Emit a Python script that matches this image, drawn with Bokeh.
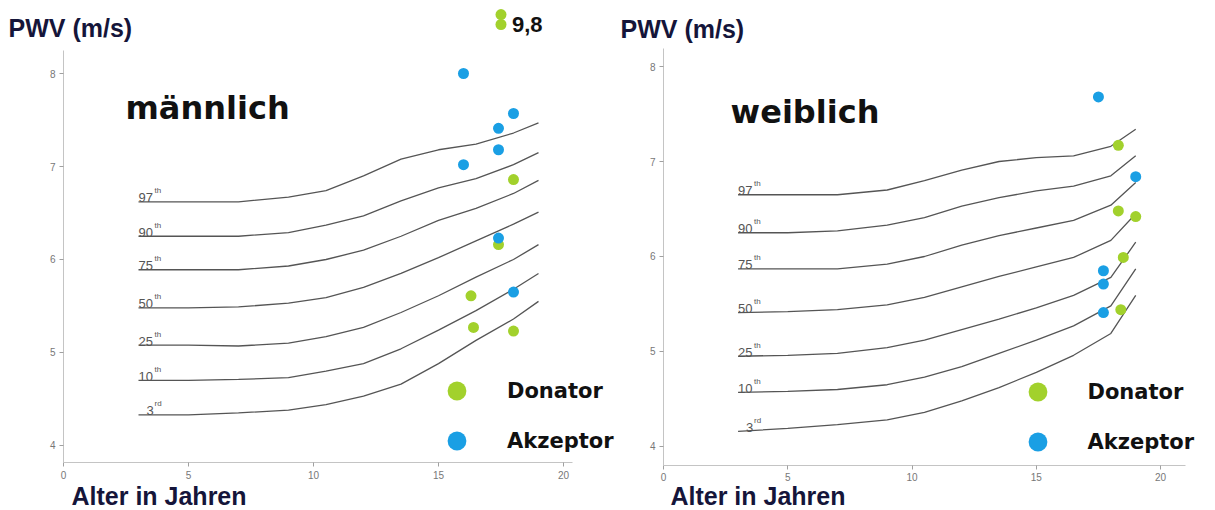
from bokeh.plotting import figure
from bokeh.models import Label, Legend, LegendItem, ColumnDataSource, FixedTicker, Range1d
from bokeh.layouts import row
from bokeh.embed import file_html
from bokeh.resources import INLINE
from bokeh.core.properties import value

# ---------------- data ----------------
ages = [3, 5, 7, 9, 10.5, 12, 13.5, 15, 16.5, 18, 19]
percentile_names = ["97", "90", "75", "50", "25", "10", "3"]
percentile_suffix = ["th", "th", "th", "th", "th", "th", "rd"]

# boys (männlich)
p97_m = [6.62, 6.62, 6.62, 6.67, 6.74, 6.90, 7.08, 7.18, 7.24, 7.36, 7.47]
p90_m = [6.25, 6.25, 6.25, 6.29, 6.37, 6.47, 6.63, 6.77, 6.87, 7.02, 7.15]
p75_m = [5.89, 5.89, 5.89, 5.93, 6.00, 6.10, 6.25, 6.42, 6.55, 6.71, 6.85]
p50_m = [5.48, 5.48, 5.49, 5.53, 5.59, 5.70, 5.85, 6.02, 6.20, 6.38, 6.51]
p25_m = [5.08, 5.08, 5.07, 5.10, 5.17, 5.27, 5.43, 5.61, 5.81, 6.00, 6.16]
p10_m = [4.70, 4.70, 4.71, 4.73, 4.80, 4.88, 5.04, 5.24, 5.45, 5.68, 5.85]
p3_m = [4.33, 4.33, 4.35, 4.38, 4.44, 4.53, 4.66, 4.88, 5.13, 5.36, 5.55]

# girls (weiblich)
p97_f = [6.65, 6.65, 6.65, 6.70, 6.80, 6.91, 7.00, 7.04, 7.06, 7.16, 7.34]
p90_f = [6.25, 6.25, 6.27, 6.33, 6.41, 6.53, 6.62, 6.69, 6.74, 6.85, 7.06]
p75_f = [5.87, 5.87, 5.87, 5.92, 6.00, 6.12, 6.22, 6.30, 6.38, 6.54, 6.78]
p50_f = [5.41, 5.42, 5.44, 5.49, 5.57, 5.68, 5.79, 5.89, 5.99, 6.17, 6.45]
p25_f = [4.95, 4.96, 4.98, 5.04, 5.12, 5.23, 5.34, 5.46, 5.59, 5.78, 6.15]
p10_f = [4.57, 4.58, 4.60, 4.65, 4.73, 4.84, 4.98, 5.12, 5.27, 5.48, 5.87]
p3_f = [4.16, 4.19, 4.23, 4.28, 4.36, 4.48, 4.62, 4.78, 4.96, 5.19, 5.59]

# patients
akzeptor_m_age = [16.0, 17.4, 18.0, 17.4, 16.0, 17.4, 18.0]
akzeptor_m_pwv = [8.0, 7.41, 7.57, 7.18, 7.02, 6.23, 5.65]
donator_m_age = [18.0, 17.4, 16.3, 16.4, 18.0]
donator_m_pwv = [6.86, 6.16, 5.61, 5.27, 5.23]
donator_m_offscale_age = [17.5, 17.5]
donator_m_offscale_pwv = [9.8, 9.8]

akzeptor_f_age = [17.5, 19.0, 17.7, 17.7, 17.7]
akzeptor_f_pwv = [7.68, 6.84, 5.85, 5.71, 5.41]
donator_f_age = [18.3, 18.3, 19.0, 18.5, 18.4]
donator_f_pwv = [7.17, 6.48, 6.42, 5.99, 5.44]

x_ticks = [0, 5, 10, 15, 20]
y_ticks = [4, 5, 6, 7, 8]

# ---------------- style ----------------
GREEN = "#a2d12c"
BLUE = "#1a9fe4"
CURVE = "#555555"
DARK = "#15153a"


def make_panel(width, x_range, y_range, x_bounds, y_bounds,
               curves, title, title_xy, pwv_xy, alter_xy, legend_loc,
               don_age, don_pwv, akz_age, akz_pwv):
    p = figure(width=width, height=510, output_backend="svg", toolbar_location=None,
               x_range=Range1d(*x_range), y_range=Range1d(*y_range),
               min_border_left=0, min_border_right=0,
               min_border_top=0, min_border_bottom=0)
    p.outline_line_color = None
    p.xgrid.visible = False
    p.ygrid.visible = False
    p.background_fill_color = "white"
    p.border_fill_color = "white"

    for ax in (p.xaxis[0], p.yaxis[0]):
        ax.axis_line_color = "#c4c4c4"
        ax.axis_line_width = 1
        ax.major_tick_line_color = "#a0a0a0"
        ax.major_tick_out = 4
        ax.major_tick_in = 0
        ax.minor_tick_line_color = None
        ax.major_label_text_font = "Liberation Sans"
        ax.major_label_text_font_size = "10px"
        ax.major_label_text_color = "#777777"
        ax.major_label_standoff = 4
    p.xaxis[0].ticker = FixedTicker(ticks=x_ticks)
    p.yaxis[0].ticker = FixedTicker(ticks=y_ticks)
    p.xaxis[0].fixed_location = y_bounds[0]
    p.yaxis[0].fixed_location = x_bounds[0]
    p.xaxis[0].bounds = x_bounds
    p.yaxis[0].bounds = y_bounds

    # percentile curves
    for c in curves:
        p.line(ages, c, line_color=CURVE, line_width=1.3)

    # percentile labels
    lab = ColumnDataSource(dict(
        x=[ages[0]] * len(curves),
        y=[c[0] for c in curves],
        t=percentile_names,
        s=percentile_suffix,
        dx=[8 if len(n) == 1 else 0 for n in percentile_names],
        sdx=[16 for n in percentile_names],
    ))
    p.text(x="x", y="y", text="t", source=lab, x_offset="dx", y_offset=-4,
           text_font=value("Liberation Sans"), text_font_size="13px",
           text_color="#555555", text_baseline="alphabetic", text_align="left")
    p.text(x="x", y="y", text="s", source=lab, x_offset="sdx", y_offset=-11,
           text_font=value("Liberation Sans"), text_font_size="8px",
           text_color="#555555", text_baseline="alphabetic", text_align="left")

    r_don = p.scatter(don_age, don_pwv, size=11, fill_color=GREEN, line_color=None)
    r_akz = p.scatter(akz_age, akz_pwv, size=11, fill_color=BLUE, line_color=None)

    legend = Legend(items=[LegendItem(label="Donator", renderers=[r_don]),
                           LegendItem(label="Akzeptor", renderers=[r_akz])],
                    location=legend_loc, glyph_width=47, glyph_height=47,
                    spacing=3, padding=0, margin=0, label_standoff=27,
                    label_text_font="DejaVu Sans", label_text_font_style="bold",
                    label_text_font_size="21px", label_text_color="#111111",
                    border_line_color=None, background_fill_alpha=0)
    p.add_layout(legend, "center")

    p.add_layout(Label(x=title_xy[0], y=title_xy[1], text=title,
                       text_font="DejaVu Sans", text_font_style="bold",
                       text_font_size="32px", text_color="#111111",
                       text_baseline="alphabetic"))
    p.add_layout(Label(x=pwv_xy[0], y=pwv_xy[1], text="PWV (m/s)",
                       text_font="Liberation Sans", text_font_style="bold",
                       text_font_size="25px", text_color=DARK,
                       text_baseline="alphabetic"))
    p.add_layout(Label(x=alter_xy[0], y=alter_xy[1], text="Alter in Jahren",
                       text_font="Liberation Sans", text_font_style="bold",
                       text_font_size="25px", text_color=DARK,
                       text_baseline="alphabetic"))
    return p


male_curves = [p97_m, p90_m, p75_m, p50_m, p25_m, p10_m, p3_m]
female_curves = [p97_f, p90_f, p75_f, p50_f, p25_f, p10_f, p3_f]

p1 = make_panel(618, (-2.52, 22.2), (3.301, 8.785), (0, 20.36), (3.817, 8.25),
                male_curves, "männlich",
                (2.48, 7.634), (-2.2, 8.484), (0.32, 3.452), (433, 46),
                donator_m_age, donator_m_pwv, akzeptor_m_age, akzeptor_m_pwv)

# off-scale donors (shown stacked above the axis with their value)
break_y = 8.527
stack_step = 0.107
off_y = [break_y + i * stack_step for i in range(len(donator_m_offscale_pwv))]
p1.scatter(donator_m_offscale_age, off_y, size=11, fill_color=GREEN, line_color=None)
off_label = ("%.1f" % donator_m_offscale_pwv[0]).replace(".", ",")
p1.text(x=[donator_m_offscale_age[0]], y=[break_y], text=[off_label], x_offset=11,
        text_font=value("Liberation Sans"), text_font_style="bold",
        text_font_size="22px", text_color="#111111", text_baseline="middle")

p2 = make_panel(597, (-1.811, 22.21), (3.326, 8.695), (0, 21.0), (3.8, 8.19),
                female_curves, "weiblich",
                (2.70, 7.516), (-1.73, 8.40), (0.28, 3.474), (395.5, 45),
                donator_f_age, donator_f_pwv, akzeptor_f_age, akzeptor_f_pwv)

layout = row(p1, p2)
open("out.html", "w").write(file_html(layout, INLINE))
